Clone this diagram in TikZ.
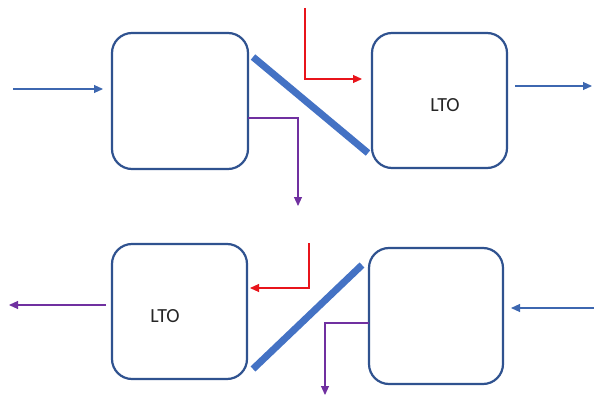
\documentclass[tikz,border=0pt]{standalone}
\usepackage{fontspec}
\setmainfont{Carlito}
\usetikzlibrary{arrows.meta}
\definecolor{boxline}{HTML}{2F528F}
\definecolor{beamblue}{HTML}{4472C4}
\definecolor{redray}{HTML}{E8141B}
\definecolor{purpray}{HTML}{7030A0}
\tikzset{
  cell/.style={draw=boxline, line width=2.2pt, rounded corners=20pt, fill=white,
    minimum width=136pt, minimum height=136pt, inner sep=0pt},
  tag/.style={inner sep=0pt, text=black!85, font=\fontsize{20}{22}\selectfont},
  plate/.style={draw=beamblue, line width=7pt, line cap=butt},
  ray/.style={line width=1.1pt, -{Triangle[length=9pt,width=8pt]}},
  blueray/.style={ray, draw=beamblue!90!black},
  redr/.style={ray, draw=redray},
  purpr/.style={ray, draw=purpray},
}
\begin{document}
\begin{tikzpicture}[x=1pt,y=-1pt]
\useasboundingbox (0,0) rectangle (594,401);

% upper row
\node[cell] (ul) at (180,101) {};
\node[cell, minimum width=135pt, minimum height=135pt] (ur) at (439.5,100.5) {};
\node[tag] (urtag) at (445,105) {LTO};
\coordinate (ulin) at (13,89);
\coordinate (ulinend) at (103,89);
\draw[blueray] (ulin) -- (ulinend);
\coordinate (urout) at (515,86);
\coordinate (uroutend) at (592,86);
\draw[blueray] (urout) -- (uroutend);
\coordinate (upA) at (253,57);
\coordinate (upB) at (368,153);
\draw[plate] (upA) -- (upB);
\coordinate (redtop) at (305,8);
\coordinate (redtip) at (362,79);
\draw[redr] (redtop) |- (redtip);
\coordinate (ultap) at (248,118);
\coordinate (uldrop) at (298,206);
\draw[purpr] (ultap) -| (uldrop);

% lower row
\node[cell, minimum width=135pt, minimum height=135pt] (ll) at (179.5,311.5) {};
\node[tag] (lltag) at (165,316) {LTO};
\node[cell, minimum width=134pt] (lr) at (436,316) {};
\coordinate (llout) at (106,305);
\coordinate (lloutend) at (9,305);
\draw[purpr] (llout) -- (lloutend);
\coordinate (lrin) at (594,308);
\coordinate (lrinend) at (511,308);
\draw[blueray] (lrin) -- (lrinend);
\coordinate (lowA) at (362,265);
\coordinate (lowB) at (253,369);
\draw[plate] (lowA) -- (lowB);
\coordinate (redtop2) at (309,243);
\coordinate (redtip2) at (250,288);
\draw[redr] (redtop2) |- (redtip2);
\coordinate (lrtap) at (369,323);
\coordinate (lrdrop) at (325,395);
\draw[purpr] (lrtap) -| (lrdrop);
\end{tikzpicture}
\end{document}
